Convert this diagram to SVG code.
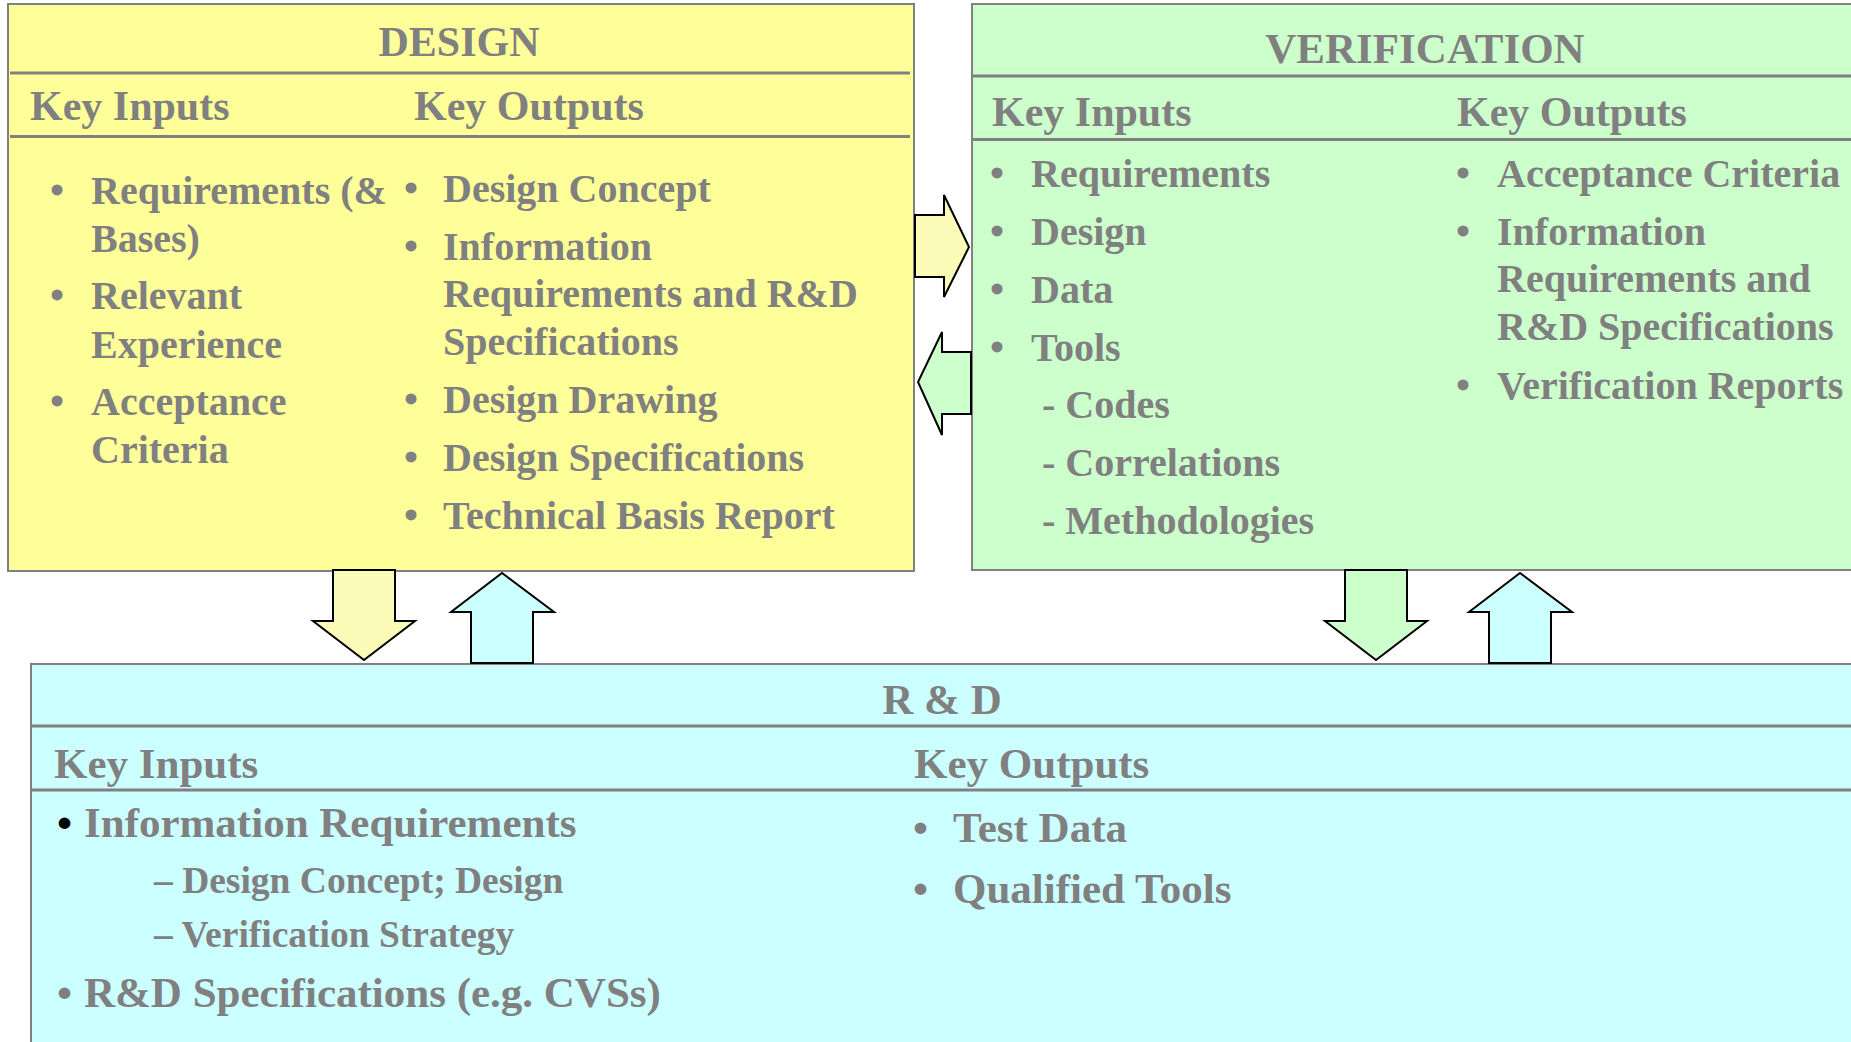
<svg xmlns="http://www.w3.org/2000/svg" width="1851" height="1042" viewBox="0 0 1851 1042">
<style>
.t{font-family:"Liberation Serif","Times New Roman",serif;font-weight:bold;fill:#808080}
.h{font-size:42px}
.r{font-size:43px}
.b{font-size:40px}
.s{font-size:37.5px}
.c{text-anchor:middle}
.box{stroke:#808080;stroke-width:2}
.div{stroke:#808080;stroke-width:3}
.arr{stroke:#000;stroke-width:2;stroke-linejoin:miter}
</style>
<rect width="1851" height="1042" fill="#fff"/>
<g id="design">
<rect class="box" x="8" y="4" width="906" height="567" fill="#FFFF99"/>
<line class="div" x1="10" y1="73" x2="910" y2="73"/>
<line class="div" x1="10" y1="136.5" x2="910" y2="136.5"/>
<text class="t h c" x="459" y="56">DESIGN</text>
<text class="t h" x="30" y="120">Key Inputs</text>
<text class="t h" x="414" y="120">Key Outputs</text>
<g class="t b">
<text x="50" y="203.5">•</text><text x="91" y="203.5">Requirements (&amp;</text>
<text x="91" y="251.5">Bases)</text>
<text x="50" y="309">•</text><text x="91" y="309">Relevant</text>
<text x="91" y="357.5">Experience</text>
<text x="50" y="415">•</text><text x="91" y="415">Acceptance</text>
<text x="91" y="462.5">Criteria</text>
<text x="404" y="202">•</text><text x="443" y="202">Design Concept</text>
<text x="404" y="259.5">•</text><text x="443" y="259.5">Information</text>
<text x="443" y="307">Requirements and R&amp;D</text>
<text x="443" y="355">Specifications</text>
<text x="404" y="413">•</text><text x="443" y="413">Design Drawing</text>
<text x="404" y="471">•</text><text x="443" y="471">Design Specifications</text>
<text x="404" y="528.5">•</text><text x="443" y="528.5">Technical Basis Report</text>
</g>
</g>
<g id="verification">
<rect class="box" x="972" y="4" width="900" height="566" fill="#CCFFCC"/>
<line class="div" x1="973" y1="76" x2="1860" y2="76"/>
<line class="div" x1="973" y1="139.5" x2="1860" y2="139.5"/>
<text class="t r c" x="1425" y="63">VERIFICATION</text>
<text class="t h" x="992" y="126">Key Inputs</text>
<text class="t h" x="1457" y="126">Key Outputs</text>
<g class="t b">
<text x="990" y="187">•</text><text x="1031" y="187">Requirements</text>
<text x="990" y="244.5">•</text><text x="1031" y="244.5">Design</text>
<text x="990" y="302.5">•</text><text x="1031" y="302.5">Data</text>
<text x="990" y="360.5">•</text><text x="1031" y="360.5">Tools</text>
<text x="1042" y="418">- Codes</text>
<text x="1042" y="476">- Correlations</text>
<text x="1042" y="534">- Methodologies</text>
<text x="1456" y="187">•</text><text x="1497" y="187">Acceptance Criteria</text>
<text x="1456" y="244.5">•</text><text x="1497" y="244.5">Information</text>
<text x="1497" y="292">Requirements and</text>
<text x="1497" y="340">R&amp;D Specifications</text>
<text x="1456" y="399">•</text><text x="1497" y="399">Verification Reports</text>
</g>
</g>
<g id="rnd">
<rect class="box" x="31" y="664" width="1840" height="400" fill="#CCFFFF"/>
<line class="div" x1="32" y1="726" x2="1860" y2="726"/>
<line class="div" x1="32" y1="790" x2="1860" y2="790"/>
<text class="t r c" x="942" y="714">R &amp; D</text>
<text class="t r" x="54" y="778">Key Inputs</text>
<text class="t r" x="914" y="778">Key Outputs</text>
<text class="r" x="57" y="837" style="font-family:'Liberation Serif','Times New Roman',serif;font-weight:bold;fill:#000">•</text>
<text class="t r" x="84" y="837">Information Requirements</text>
<text class="t s" x="154" y="893">– Design Concept; Design</text>
<text class="t s" x="154" y="947">– Verification Strategy</text>
<text class="t r" x="57" y="1007">•</text><text class="t r" x="84" y="1007">R&amp;D Specifications (e.g. CVSs)</text>
<text class="t r" x="913" y="842">•</text><text class="t r" x="953" y="842">Test Data</text>
<text class="t r" x="913" y="903">•</text><text class="t r" x="953" y="903">Qualified Tools</text>
</g>
<g id="connectors">
<polygon class="arr" fill="#FCFCB8" points="915,215 944,215 944,195 969,247 944,297 944,277 915,277"/>
<polygon class="arr" fill="#CCFFCC" points="971,352 942,352 942,332 918,382 942,435 942,414 971,414"/>
<polygon class="arr" fill="#FCFCB8" points="333,570 395,570 395,621 415,621 364,660 313,621 333,621"/>
<polygon class="arr" fill="#CCFFFF" points="471,663 533,663 533,612 554,612 502,573 451,612 471,612"/>
<polygon class="arr" fill="#CCFFCC" points="1345,570 1407,570 1407,621 1427,621 1376,660 1325,621 1345,621"/>
<polygon class="arr" fill="#CCFFFF" points="1489,663 1551,663 1551,612 1572,612 1520,573 1469,612 1489,612"/>
</g>
</svg>
